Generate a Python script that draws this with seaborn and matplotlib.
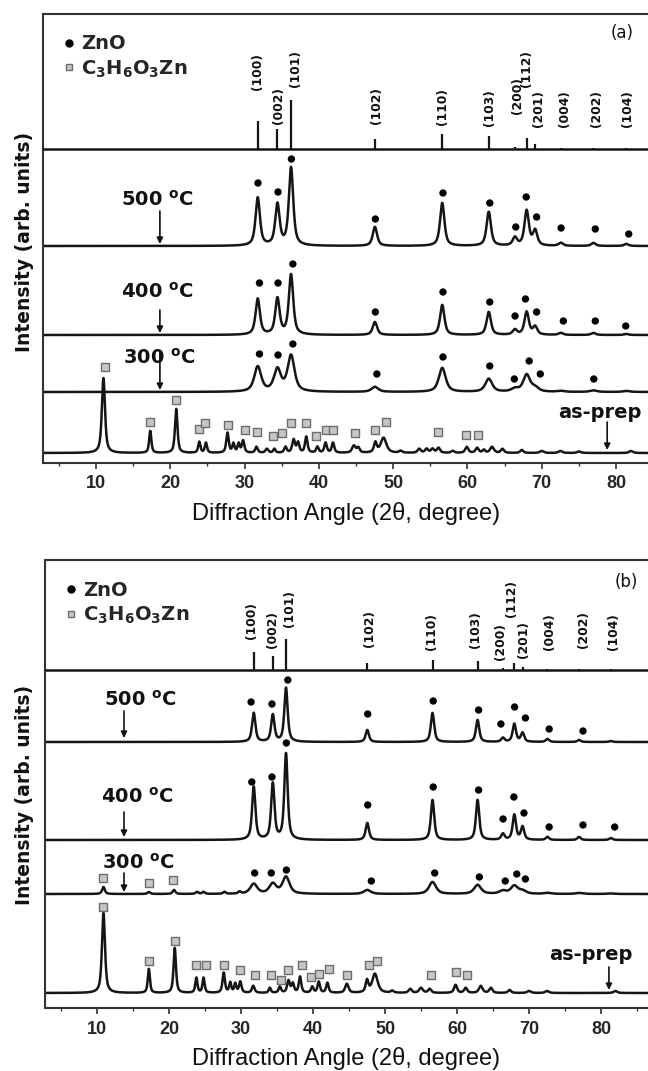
import numpy as np
import matplotlib
matplotlib.use("Agg")
import matplotlib.pyplot as plt
from matplotlib.lines import Line2D
import seaborn as sns

sns.set_theme(style="white")
plt.rcParams["font.family"] = ["DejaVu Sans"]
plt.rcParams["mathtext.fontset"] = "dejavusans"
plt.rcParams["mathtext.default"] = "bf"

# ---------------- data ----------------
ZNO_POS = [31.77, 34.42, 36.25, 47.54, 56.60, 62.86, 66.38, 67.96, 69.10, 72.56, 76.95, 81.37]
ZNO_HKL = ["(100)", "(002)", "(101)", "(102)", "(110)", "(103)", "(200)", "(112)", "(201)", "(004)", "(202)", "(104)"]

# reference stick intensities
STICK_A = [28, 20, 49, 10, 15, 13, 2, 11, 5, 1, 1.5, 1]
STICK_B = [18, 14, 31, 7, 10, 9, 2, 7, 3, 1, 1.5, 1]
# hkl label x positions and heights above the stick baseline
HKL_X_A = [31.7, 34.6, 36.8, 47.8, 56.7, 62.9, 66.7, 68.0, 69.5, 73.0, 77.3, 81.5]
HKL_Y_A = [59, 25, 62, 25, 24, 23, 35, 62, 22, 22, 22, 22]
HKL_X_B = [31.5, 34.4, 36.7, 47.8, 56.5, 62.6, 66.1, 67.6, 69.3, 72.9, 77.5, 81.8]
HKL_Y_B = [31, 22, 43, 23, 20, 22, 10, 53, 12, 20, 22, 20]

# ZnO peak heights of the annealed samples
A500_H = [48, 41, 78, 19, 43, 34, 8, 35, 15, 3, 3, 2]
A400_H = [36, 36, 60, 13, 30, 23, 5, 23, 8, 2, 2, 1]
A300_H = [25, 22, 36, 5, 24, 13, 3, 17, 4, 1, 1.5, 1]
B500_H = [29, 27, 54, 12, 29, 22, 4, 18, 9, 3, 2, 1]
B400_H = [53, 56, 86, 17, 40, 40, 6, 25, 13, 3, 3, 2]
B300_H = [10, 10, 17, 4, 12, 9, 3, 8, 3, 1, 1, 0.5]

# ZnO dot markers (x, height above baseline)
A500_DOT_X = [31.8, 34.5, 36.3, 47.6, 56.7, 63.0, 66.5, 67.9, 69.3, 72.6, 77.2, 81.7]
A500_DOT_Y = [63, 54, 87, 27, 53, 43, 19, 49, 29, 18, 17, 12]
A400_DOT_X = [32.0, 34.5, 36.5, 47.6, 56.7, 63.0, 66.4, 67.8, 69.3, 72.9, 77.2, 81.3]
A400_DOT_Y = [52, 52, 71, 23, 43, 33, 19, 36, 23, 14, 14, 9]
A300_DOT_X = [32.0, 34.5, 36.5, 47.8, 56.7, 63.0, 66.3, 68.3, 69.8, 77.0]
A300_DOT_Y = [38, 37, 48, 18, 35, 26, 13, 31, 18, 13]
B500_DOT_X = [31.4, 34.3, 36.5, 47.6, 56.7, 63.0, 66.1, 68.0, 69.5, 72.8, 77.5]
B500_DOT_Y = [40, 38, 62, 28, 41, 32, 18, 35, 24, 13, 11]
B400_DOT_X = [31.5, 34.3, 36.3, 47.6, 56.7, 63.0, 66.4, 67.9, 69.3, 72.8, 77.5, 81.9]
B400_DOT_Y = [58, 63, 97, 35, 53, 50, 21, 43, 27, 13, 15, 13]
B300_DOT_X = [31.9, 34.2, 36.3, 48.1, 56.9, 63.1, 66.7, 68.3, 69.5]
B300_DOT_Y = [21, 21, 24, 13, 21, 17, 13, 20, 15]

# zinc lactate (as-prepared) peaks: position, height, width
LAC_A_POS = [11.0, 17.3, 20.8, 23.9, 24.8, 27.7, 28.5, 29.2, 29.8, 31.6, 33.0, 34.0, 35.5, 36.6, 37.2,
             38.3, 39.8, 40.9, 41.9, 44.7, 45.3, 47.6, 48.7, 51.0, 53.5, 54.5, 55.3, 56.1, 58.0, 59.9,
             61.3, 62.2, 63.3, 64.7, 67.3, 70.0, 72.5, 75.0, 82.0]
LAC_A_H = [75, 22, 44, 11, 10, 20, 9, 9, 12, 6, 4, 4, 6, 13, 10,
           16, 6, 10, 10, 7, 5, 10, 15, 2, 4, 4, 4, 5, 2, 6,
           5, 3, 6, 4, 3, 2, 2, 1.5, 2]
LAC_A_W = [0.5, 0.35, 0.4, 0.35, 0.35, 0.4, 0.35, 0.35, 0.4, 0.4, 0.45, 0.35, 0.4, 0.45, 0.4,
           0.4, 0.4, 0.4, 0.4, 0.55, 0.45, 0.45, 0.9, 0.5, 0.5, 0.5, 0.5, 0.5, 0.5, 0.5,
           0.5, 0.4, 0.6, 0.5, 0.5, 0.6, 0.6, 0.6, 0.6]
LAC_B_POS = [10.9, 17.2, 20.8, 23.8, 24.8, 27.6, 28.5, 29.2, 29.9, 31.7, 34.0, 35.4, 36.6, 37.2, 38.2,
             39.9, 40.8, 42.0, 44.7, 47.5, 48.6, 51.0, 53.5, 55.0, 56.2, 59.8, 61.2, 63.3, 64.7, 67.3,
             70.0, 72.5, 82.0]
LAC_B_H = [80, 24, 45, 15, 15, 20, 10, 9, 11, 7, 5, 6, 12, 9, 16,
           6, 11, 10, 9, 12, 19, 2, 4, 5, 4, 8, 5, 7, 5, 3,
           2, 2, 2]
LAC_B_W = [0.5, 0.35, 0.4, 0.35, 0.35, 0.4, 0.35, 0.35, 0.4, 0.45, 0.35, 0.4, 0.45, 0.4, 0.4,
           0.4, 0.4, 0.4, 0.55, 0.45, 0.9, 0.5, 0.5, 0.6, 0.5, 0.5, 0.5, 0.6, 0.5, 0.5,
           0.6, 0.6, 0.6]
# residual lactate peaks in the 300 C sample of (b)
B300_LAC_POS = [10.9, 17.2, 20.7, 23.9, 24.8, 27.7, 29.8]
B300_LAC_H = [7, 2, 4, 2, 2, 2, 2]

# square markers (x, height above baseline)
A_SQ_X = [11.2, 17.3, 20.8, 23.8, 24.7, 27.8, 30.0, 31.7, 33.8, 35.0, 36.3, 38.2, 39.6, 41.0, 41.9,
          44.8, 47.6, 49.0, 56.0, 59.8, 61.4]
A_SQ_Y = [86, 31, 53, 24, 30, 28, 23, 21, 17, 20, 30, 30, 17, 23, 23, 20, 23, 31, 21, 18, 18]
B_SQ_X = [10.9, 17.2, 20.8, 23.8, 25.2, 27.6, 29.8, 31.9, 34.1, 35.6, 36.5, 38.5, 39.7, 40.9, 42.2,
          44.7, 47.8, 48.9, 56.4, 59.9, 61.4]
B_SQ_Y = [86, 32, 52, 28, 28, 28, 23, 18, 18, 13, 23, 28, 16, 19, 24, 18, 28, 32, 18, 21, 18]
B300_SQ_X = [10.9, 17.2, 20.6]
B300_SQ_Y = [16, 11, 14]

LEGEND_LABELS = ["ZnO", "C$_3$H$_6$O$_3$Zn"]
TEMP_LABELS = ["500 $^{o}$C", "400 $^{o}$C", "300 $^{o}$C", "as-prep"]
XTICKS = [10, 20, 30, 40, 50, 60, 70, 80]

# ---------------- layout ----------------
W, H = 648, 1071
LINE = "#151515"
SQ_FACE, SQ_EDGE = "#c6c6c6", "#6e6e6e"

def profile(x, pos, hts, wid, eta=0.7):
    y = np.zeros_like(x)
    for c, h, w in zip(pos, hts, wid):
        d = (x - c) / w
        y += h * (eta / (1 + 4 * d ** 2) + (1 - eta) * np.exp(-4 * np.log(2) * d ** 2))
    return y

panels = [
    dict(tag="(a)", px0=21.7, ppu=7.43, left=43, top=14, bottom=463,
         stick=314, base=[217, 128, 71, 10], stick_h=STICK_A, hkl_x=HKL_X_A, hkl_y=HKL_Y_A,
         znos=[A500_H, A400_H, A300_H], widths=[0.7, 0.7, 1.1],
         dots=[(A500_DOT_X, A500_DOT_Y), (A400_DOT_X, A400_DOT_Y), (A300_DOT_X, A300_DOT_Y)],
         lac=(LAC_A_POS, LAC_A_H, LAC_A_W), lac300=None,
         sq=(A_SQ_X, A_SQ_Y), sq300=None,
         temp_txt=[(18.2, 263), (18.2, 171), (18.5, 105), (77.8, 50)],
         arrows=[(18.6, 252, 219), (18.6, 153, 130), (18.6, 111, 73), (78.8, 41, 13)],
         tagpos=(80.8, 430), leg=(0.012, 0.985), ylab_y=242, xlab_y=513),
    dict(tag="(b)", px0=25.0, ppu=7.2, left=45, top=560, bottom=1008,
         stick=338, base=[266, 168, 114, 15], stick_h=STICK_B, hkl_x=HKL_X_B, hkl_y=HKL_Y_B,
         znos=[B500_H, B400_H, B300_H], widths=[0.55, 0.55, 1.15],
         dots=[(B500_DOT_X, B500_DOT_Y), (B400_DOT_X, B400_DOT_Y), (B300_DOT_X, B300_DOT_Y)],
         lac=(LAC_B_POS, LAC_B_H, LAC_B_W), lac300=(B300_LAC_POS, B300_LAC_H),
         sq=(B_SQ_X, B_SQ_Y), sq300=(B300_SQ_X, B300_SQ_Y),
         temp_txt=[(16.0, 308), (15.6, 211), (15.7, 145), (78.6, 53)],
         arrows=[(13.75, 297, 270), (13.75, 196, 171), (13.75, 135, 116), (81.1, 41, 18)],
         tagpos=(83.5, 426), leg=(0.012, 0.983), ylab_y=795, xlab_y=1058),
]

fig = plt.figure(figsize=(W / 100, H / 100), dpi=100)
fig.patch.set_facecolor("white")
XMAX = 90

for p in panels:
    xmin = (p["left"] - p["px0"]) / p["ppu"]
    width_px = (XMAX - xmin) * p["ppu"]
    hpx = p["bottom"] - p["top"]
    ax = fig.add_axes([p["left"] / W, 1 - p["bottom"] / H, width_px / W, hpx / H])
    ax.set_xlim(xmin, XMAX)
    ax.set_ylim(0, hpx)
    xg = np.linspace(xmin, XMAX, 5000)

    # reference sticks
    ax.axhline(p["stick"], color=LINE, lw=1.8, zorder=3)
    ax.vlines(ZNO_POS, p["stick"], [p["stick"] + h for h in p["stick_h"]], color=LINE, lw=1.6)
    for lbl, lx, ly in zip(ZNO_HKL, p["hkl_x"], p["hkl_y"]):
        ax.text(lx, p["stick"] + ly, lbl, rotation=90, ha="center", va="bottom",
                fontsize=8.8, fontweight="bold", color="#111")

    # annealed ZnO patterns
    for k in range(3):
        base = p["base"][k]
        y = base + profile(xg, ZNO_POS, p["znos"][k], [p["widths"][k]] * len(ZNO_POS))
        if k == 2 and p["lac300"] is not None:
            lp, lh = p["lac300"]
            y = y + profile(xg, lp, lh, [0.45] * len(lp))
        sns.lineplot(x=xg, y=y, ax=ax, color=LINE, lw=1.8, estimator=None, sort=False)
        dx, dy = p["dots"][k]
        sns.scatterplot(x=dx, y=[base + v for v in dy], ax=ax, marker="o", s=28,
                        color="black", edgecolor="none", zorder=5)
    if p["sq300"] is not None:
        sx, sy = p["sq300"]
        sns.scatterplot(x=sx, y=[p["base"][2] + v for v in sy], ax=ax, marker="s", s=34,
                        color=SQ_FACE, edgecolor=SQ_EDGE, linewidth=1.0, zorder=5)

    # as-prepared pattern
    lp, lh, lw_ = p["lac"]
    y = p["base"][3] + profile(xg, lp, lh, lw_)
    sns.lineplot(x=xg, y=y, ax=ax, color=LINE, lw=1.8, estimator=None, sort=False)
    sx, sy = p["sq"]
    sns.scatterplot(x=sx, y=[p["base"][3] + v for v in sy], ax=ax, marker="s", s=34,
                    color=SQ_FACE, edgecolor=SQ_EDGE, linewidth=1.0, zorder=5)

    # labels and arrows
    for lbl, (tx, ty) in zip(TEMP_LABELS, p["temp_txt"]):
        ax.text(tx, ty, lbl, ha="center", va="center", fontsize=14, fontweight="bold", color="#111")
    for (axx, y0, y1) in p["arrows"]:
        ax.annotate("", xy=(axx, y1), xytext=(axx, y0),
                    arrowprops=dict(arrowstyle="-|>", lw=1.2, color="#111", mutation_scale=9,
                                    shrinkA=0, shrinkB=0))
    ax.text(p["tagpos"][0], p["tagpos"][1], p["tag"], ha="center", va="center", fontsize=12, color="#111")

    handles = [Line2D([], [], marker="o", ls="", color="black", ms=5),
               Line2D([], [], marker="s", ls="", mfc=SQ_FACE, mec=SQ_EDGE, ms=5)]
    ax.legend(handles, LEGEND_LABELS, loc="upper left", bbox_to_anchor=p["leg"],
              frameon=False, handlelength=0.5, handletextpad=0.35, borderpad=0.2,
              labelspacing=0.25, prop=dict(family="DejaVu Sans", weight="bold", size=14))

    # axes styling
    for s in ["left", "bottom", "top"]:
        ax.spines[s].set_color("#333333")
        ax.spines[s].set_linewidth(1.5)
    ax.spines["right"].set_visible(False)
    ax.set_yticks([])
    ax.set_xticks(XTICKS)
    ax.set_xticks(np.arange(5, 91, 10), minor=True)
    ax.tick_params(axis="x", which="major", direction="out", length=4, width=1.2, color="#333",
                   pad=5, bottom=True)
    ax.tick_params(axis="x", which="minor", direction="out", length=2.5, width=1.0, color="#333",
                   bottom=True)
    for t in ax.get_xticklabels():
        t.set_fontfamily("Liberation Sans")
        t.set_fontweight("bold")
        t.set_fontsize(13)
    ax.set_xlabel("")
    ax.set_ylabel("")

    fig.text(346 / W, 1 - p["xlab_y"] / H, "Diffraction Angle (2θ, degree)", ha="center", va="center",
             fontsize=17, family="Liberation Sans", color="#111")
    fig.text(25 / W, 1 - p["ylab_y"] / H, "Intensity (arb. units)", rotation=90, ha="center",
             va="center", fontsize=13.5, fontweight="bold", family="DejaVu Sans", color="#111")

fig.savefig("out.png", dpi=100, facecolor="white")
